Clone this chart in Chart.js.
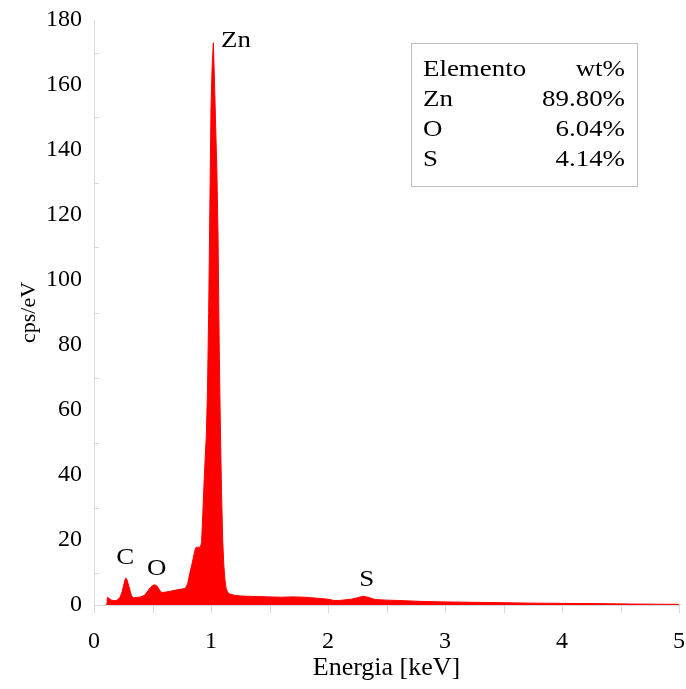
<!DOCTYPE html>
<html>
<head>
<meta charset="utf-8">
<script src="https://cdn.jsdelivr.net/npm/chart.js@4/dist/chart.umd.min.js"></script>
<style>
  html, body { margin: 0; padding: 0; background: #ffffff; }
  #wrap { width: 686px; height: 689px; position: relative; }
</style>
</head>
<body>
<div id="wrap"><canvas id="c" width="686" height="689"></canvas></div>
<script>
// ---- Data (EDS spectrum) ----
const energyKeV = [
  0.10, 0.11, 0.115, 0.13, 0.15, 0.18, 0.20, 0.22, 0.24, 0.26, 0.27, 0.28, 0.30, 0.32, 0.34, 0.36, 0.38,
  0.40, 0.42, 0.44, 0.46, 0.48, 0.50, 0.52, 0.54, 0.56, 0.58, 0.60, 0.65, 0.70, 0.75, 0.78,
  0.80, 0.82, 0.84, 0.86, 0.87, 0.88, 0.90, 0.91, 0.92, 0.93, 0.94, 0.95, 0.96, 0.97, 0.98, 0.99,
  1.00, 1.01, 1.02, 1.03, 1.04, 1.05, 1.06, 1.07, 1.08, 1.09, 1.10, 1.11, 1.12, 1.13, 1.14, 1.16,
  1.20, 1.25, 1.30, 1.40, 1.50, 1.60, 1.70, 1.80, 1.90, 2.00, 2.05, 2.10, 2.15, 2.20, 2.25, 2.30,
  2.35, 2.40, 2.50, 2.60, 2.80, 3.00, 3.20, 3.40, 3.60, 3.80, 4.00, 4.20, 4.40, 4.60, 4.80, 5.00
];
const cpsPerEv = [
  0, 0, 2.4, 2.0, 1.5, 1.3, 1.6, 2.2, 4.0, 7.0, 8.3, 8.0, 5.5, 2.8, 2.2, 2.3, 2.4,
  2.5, 2.8, 3.3, 4.3, 5.3, 6.0, 6.2, 5.8, 4.6, 3.8, 3.9, 4.2, 4.6, 4.9, 5.1,
  6.5, 9.9, 13.0, 16.5, 17.6, 17.8, 17.8, 17.8, 19.5, 28.0, 37.0, 45.0, 52.0, 66.0, 90.0, 122.0,
  153.0, 166.0, 173.0, 161.0, 147.0, 134.0, 114.0, 80.0, 55.0, 35.0, 20.0, 12.0, 7.5, 5.0, 4.0, 3.4,
  3.0, 2.8, 2.7, 2.6, 2.5, 2.4, 2.5, 2.4, 2.1, 1.8, 1.4, 1.4, 1.6, 1.8, 2.2, 2.7,
  2.3, 1.7, 1.5, 1.4, 1.1, 0.95, 0.85, 0.75, 0.65, 0.55, 0.5, 0.45, 0.38, 0.3, 0.25, 0.2
];
const xTickLabels = ['0', '1', '2', '3', '4', '5'];
const yTickLabels = ['0', '20', '40', '60', '80', '100', '120', '140', '160', '180'];
const peakNames = ['C', 'O', 'Zn', 'S'];
const peakLabelKeV = [0.267, 0.537, 1.085, 2.33];
const peakLabelCps = [14.6, 11.1, 173.6, 7.7];
const tableHeader = ['Elemento', 'wt%'];
const tableElements = ['Zn', 'O', 'S'];
const tableWt = ['89.80%', '6.04%', '4.14%'];

const serif = "'Liberation Serif', 'Times New Roman', serif";
const axisGray = '#d9d9d9';
const stretchX = 1.17; // reference text is horizontally wide

const points = energyKeV.map((e, i) => ({ x: e, y: cpsPerEv[i] }));

function wideText(ctx, text, x, y, align) {
  ctx.save();
  ctx.translate(x, y);
  ctx.scale(stretchX, 1);
  ctx.textAlign = align;
  ctx.fillText(text, 0, 0);
  ctx.restore();
}

const extrasPlugin = {
  id: 'extras',
  afterDraw(chart) {
    const ctx = chart.ctx;
    const xs = chart.scales.x, ys = chart.scales.y;
    ctx.save();
    // tick marks
    ctx.strokeStyle = axisGray;
    ctx.lineWidth = 1;
    for (let v = 0; v <= 5.0001; v += 0.5) {
      const px = Math.round(xs.getPixelForValue(v)) + 0.5;
      const py = ys.getPixelForValue(0);
      ctx.beginPath(); ctx.moveTo(px, py); ctx.lineTo(px, py + 8); ctx.stroke();
    }
    for (let v = 10; v < 180; v += 20) {
      const py = Math.round(ys.getPixelForValue(v)) + 0.5;
      const px = xs.getPixelForValue(0);
      ctx.beginPath(); ctx.moveTo(px, py); ctx.lineTo(px + 5, py); ctx.stroke();
    }
    // peak labels
    ctx.fillStyle = '#000';
    ctx.font = '23px ' + serif;
    ctx.textBaseline = 'middle';
    peakNames.forEach((n, i) => {
      wideText(ctx, n, xs.getPixelForValue(peakLabelKeV[i]), ys.getPixelForValue(peakLabelCps[i]), n === 'Zn' ? 'left' : 'center');
    });
    // composition table
    const bx = 411.5, by = 43.5, bw = 226, bh = 143;
    ctx.strokeStyle = '#bfbfbf';
    ctx.strokeRect(bx, by, bw, bh);
    const rowsY = [70, 100, 130, 160];
    const leftX = 423, rightX = 625;
    wideText(ctx, tableHeader[0], leftX, rowsY[0], 'left');
    wideText(ctx, tableHeader[1], rightX, rowsY[0], 'right');
    tableElements.forEach((el, i) => {
      wideText(ctx, el, leftX, rowsY[i + 1], 'left');
      wideText(ctx, tableWt[i], rightX, rowsY[i + 1], 'right');
    });
    ctx.restore();
  }
};

new Chart(document.getElementById('c'), {
  type: 'line',
  data: {
    datasets: [{
      data: points,
      borderColor: '#ff0000',
      backgroundColor: '#ff0000',
      borderWidth: 1,
      pointRadius: 0,
      tension: 0,
      fill: 'origin'
    }]
  },
  options: {
    responsive: false,
    animation: false,
    layout: { padding: { left: 0, top: 20, right: 7, bottom: 0 } },
    plugins: { legend: { display: false }, tooltip: { enabled: false } },
    scales: {
      x: {
        type: 'linear', min: 0, max: 5,
        afterFit(s) { s.height = 84; },
        grid: { display: true, drawOnChartArea: false, drawTicks: true, tickLength: 21, color: 'rgba(0,0,0,0)' },
        border: { display: true, color: axisGray, width: 1 },
        ticks: {
          stepSize: 1, padding: 1, color: '#000',
          font: { family: serif, size: 24 },
          callback: (v) => xTickLabels[Math.round(v)] ?? ''
        },
        title: { display: true, text: 'Energia [keV]', color: '#000', font: { family: serif, size: 26 }, padding: { top: 0, bottom: 5 } }
      },
      y: {
        type: 'linear', min: 0, max: 180,
        afterFit(s) { s.width = 94; s.paddingTop = 0; s.paddingBottom = 0; },
        grid: { display: false, drawTicks: false },
        border: { display: true, color: axisGray, width: 1 },
        ticks: {
          stepSize: 20, padding: 12, color: '#000',
          font: { family: serif, size: 24 },
          callback: (v) => yTickLabels[Math.round(v / 20)] ?? ''
        },
        title: { display: true, text: 'cps/eV', color: '#000', font: { family: serif, size: 22 }, padding: { top: 16, bottom: 0 } }
      }
    }
  },
  plugins: [extrasPlugin]
});
</script>
</body>
</html>
